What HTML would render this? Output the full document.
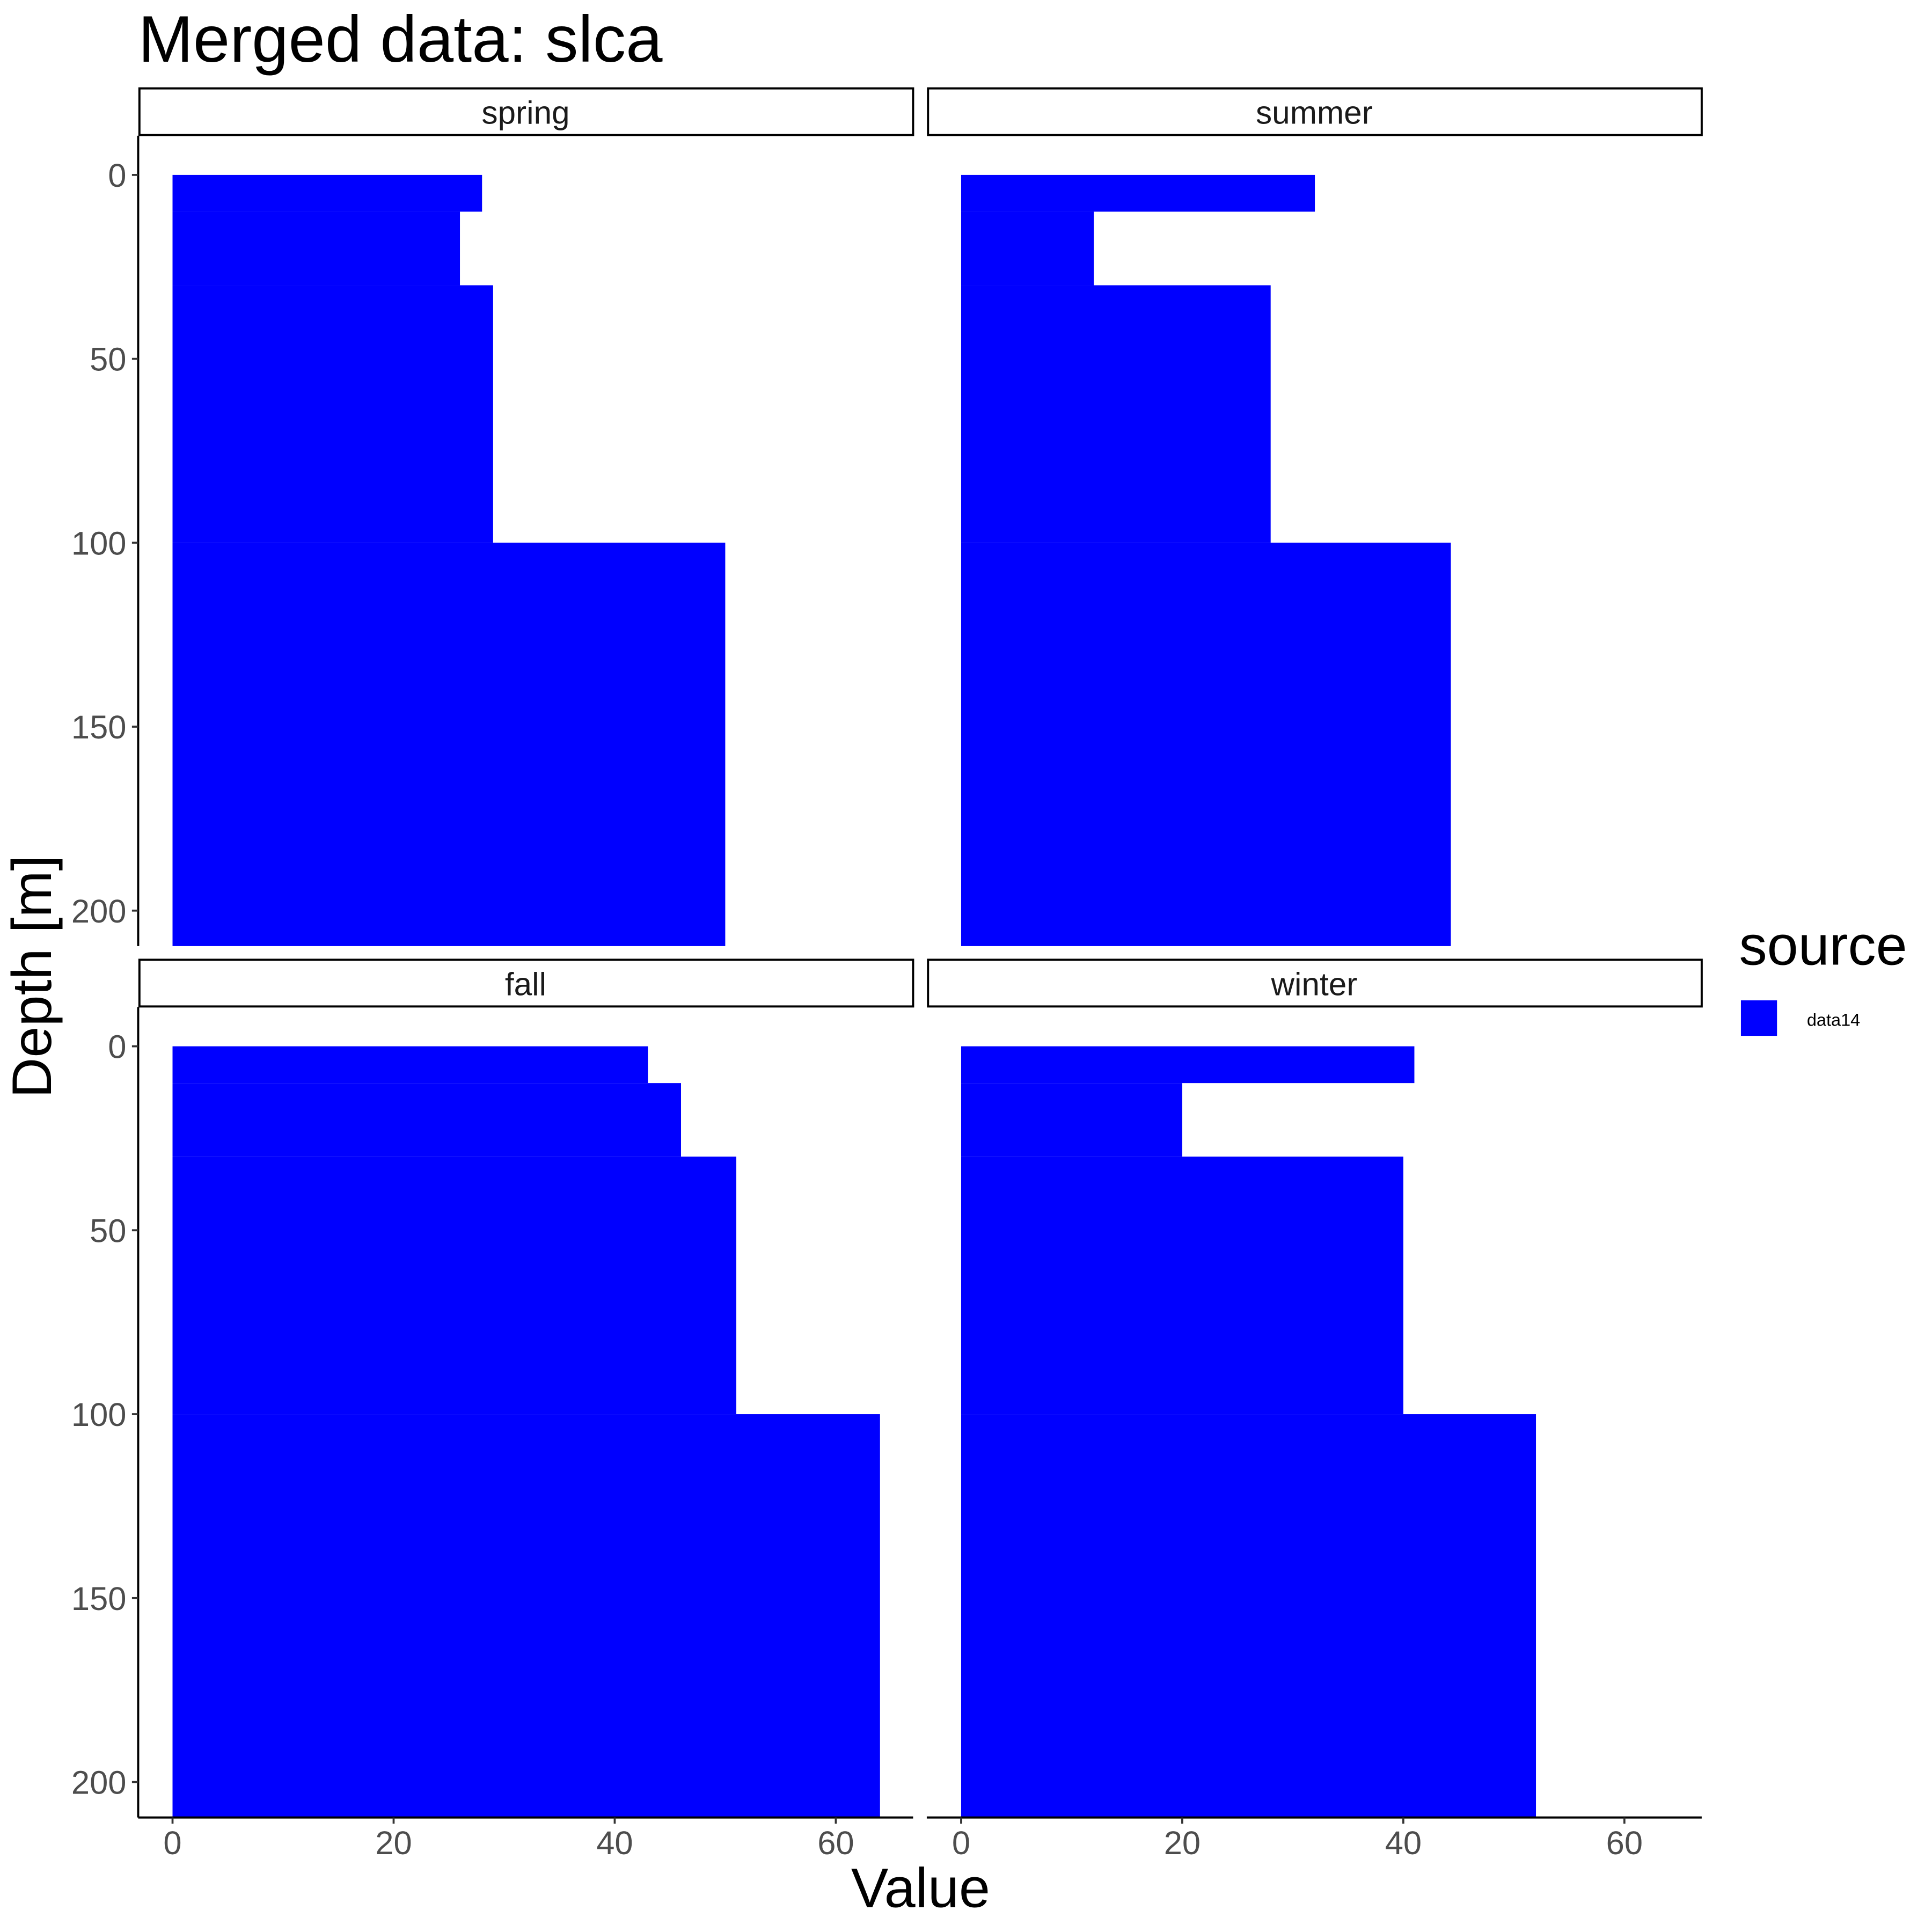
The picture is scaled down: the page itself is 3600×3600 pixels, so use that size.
<!DOCTYPE html>
<html><head><meta charset="utf-8"><style>
html,body{margin:0;padding:0;background:#fff}
svg{display:block}
text{font-family:"Liberation Sans",Arial,sans-serif}
</style></head><body>
<svg id="chart" xmlns="http://www.w3.org/2000/svg" width="3600" height="3600" viewBox="0 0 1552 1552">
<rect width="1552" height="1552" fill="#fff"/>
<text x="111" y="49.5" font-size="53">Merged data: slca</text>
<text x="739.5" y="1532" font-size="45" text-anchor="middle">Value</text>
<text transform="translate(41,784.5) rotate(-90)" font-size="45" text-anchor="middle">Depth [m]</text>
<text x="1397" y="775" font-size="45">source</text>
<rect x="1398.5" y="803.6" width="29" height="28.5" fill="#0000ff"/>
<text x="1451.5" y="824" font-size="14">data14</text>
<g id="panels"></g>
</svg>
<script>
const seasons = ["spring","summer","fall","winter"];
const depthTop = [0, 10, 30, 100];
const depthBottom = [10, 30, 100, 210];
const springValues = [28, 26, 29, 50];
const summerValues = [32, 12, 28, 44.3];
const fallValues = [43, 46, 51, 64];
const winterValues = [41, 20, 40, 52];
const xTicks = [0, 20, 40, 60];
const yTicks = [0, 50, 100, 150, 200];

const allValues = [springValues, summerValues, fallValues, winterValues];
const NS = "http://www.w3.org/2000/svg";
const g = document.getElementById("panels");
const panelX = [111, 744.5], panelY = [109, 809];
const panelW = 622.5, panelH = 651;
function mk(tag, attrs, parent){const e=document.createElementNS(NS,tag);for(const k in attrs)e.setAttribute(k,attrs[k]);(parent||g).appendChild(e);return e;}
function xScale(v, px){return px + 27.6 + v * 8.88;}
function yScale(d, py){return py + 31.5 + d * 2.955;}

seasons.forEach((s, i) => {
  const col = i % 2, row = Math.floor(i / 2);
  const px = panelX[col], py = panelY[row];
  const strip = mk("rect", {x: px + 1, y: py - 38, width: panelW - 1, height: 37.5, fill: "#fff", stroke: "#000", "stroke-width": 1.7});
  
  
  const st = mk("text", {x: px + panelW / 2, y: py - 9.6, "font-size": 26, "text-anchor": "middle", fill: "#1a1a1a"});
  st.textContent = s;
  
  
  const vals = allValues[i];
  vals.forEach((v, j) => {
    const y0 = yScale(depthTop[j], py);
    const y1 = Math.min(yScale(depthBottom[j], py), py + panelH);
    const r = mk("rect", {x: xScale(0, px), y: y0, width: xScale(v, px) - xScale(0, px), height: y1 - y0, fill: "#0000ff"});
    
    
  });
  if (col === 0) {
    const ax = mk("line", {x1: px, y1: py, x2: px, y2: py + panelH, stroke: "#000", "stroke-width": 1.7});
    
    
    yTicks.forEach(t => {
      const y = yScale(t, py);
      const tk = mk("line", {x1: px - 5, y1: y, x2: px, y2: y, stroke: "#333", "stroke-width": 1.6});
      
      
      const tl = mk("text", {x: px - 9.5, y: y + 9.5, "font-size": 26.5, "text-anchor": "end", fill: "#4d4d4d"});
      tl.textContent = t;
      
      
    });
  }
  if (row === 1) {
    const ax = mk("line", {x1: px, y1: py + panelH, x2: px + panelW, y2: py + panelH, stroke: "#000", "stroke-width": 1.7});
    
    
    xTicks.forEach(t => {
      const x = xScale(t, px);
      const tk = mk("line", {x1: x, y1: py + panelH, x2: x, y2: py + panelH + 5, stroke: "#333", "stroke-width": 1.6});
      
      
      const tl = mk("text", {x: x, y: py + panelH + 29.5, "font-size": 26.5, "text-anchor": "middle", fill: "#4d4d4d"});
      tl.textContent = t;
      
      
    });
  }
});
</script>
</body></html>
